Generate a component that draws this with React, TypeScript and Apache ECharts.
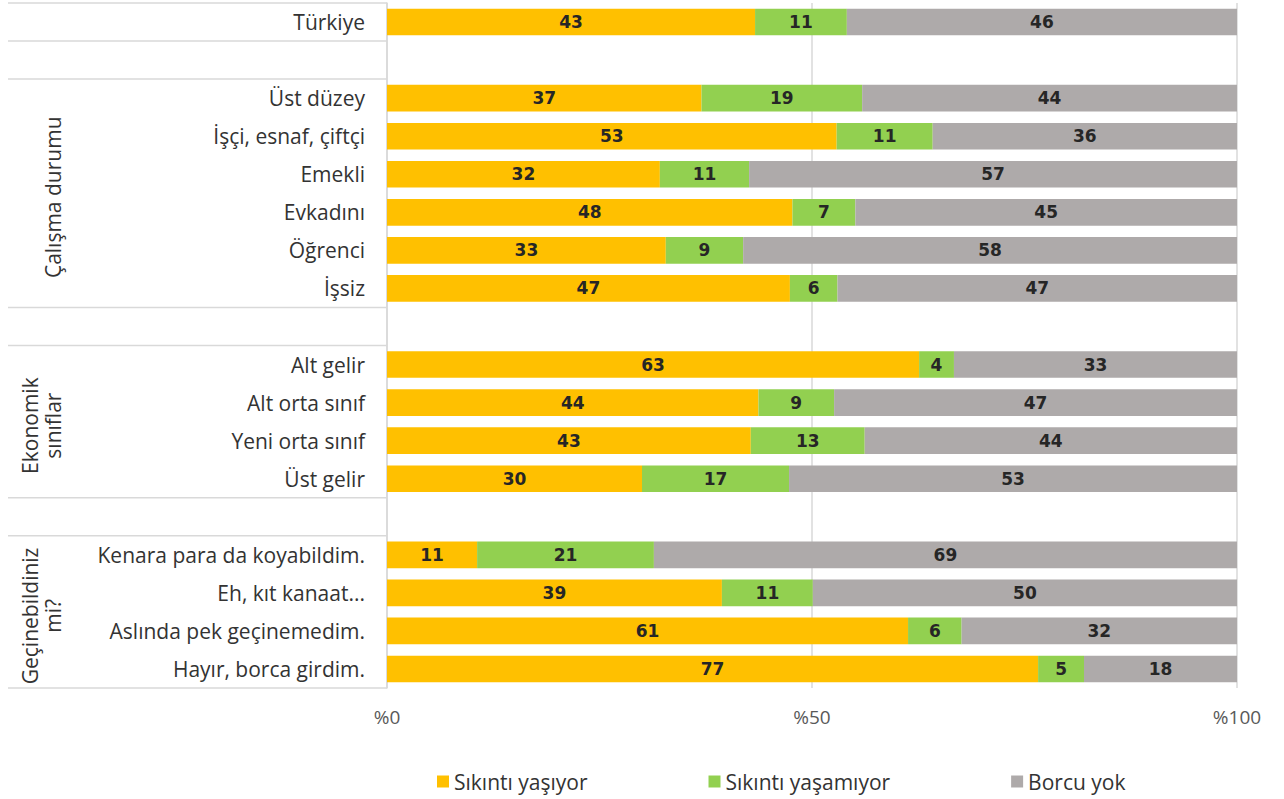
import React, { useEffect, useRef } from "react";
import * as echarts from "echarts";

const categories = [
  "Türkiye",
  " ",
  "Üst düzey",
  "İşçi, esnaf, çiftçi",
  "Emekli",
  "Evkadını",
  "Öğrenci",
  "İşsiz",
  "  ",
  "Alt gelir",
  "Alt orta sınıf",
  "Yeni orta sınıf",
  "Üst gelir",
  "   ",
  "Kenara para da koyabildim.",
  "Eh, kıt kanaat...",
  "Aslında pek geçinemedim.",
  "Hayır, borca girdim.",
];

const seriesNames = ["Sıkıntı yaşıyor", "Sıkıntı yaşamıyor", "Borcu yok"];

const sikintiYasiyor = [43.3, null, 37.0, 52.9, 32.1, 47.7, 32.8, 47.4, null, 62.6, 43.7, 42.8, 30.0, null, 10.6, 39.4, 61.3, 76.6];
const sikintiYasamiyor = [10.8, null, 18.9, 11.3, 10.5, 7.4, 9.1, 5.6, null, 4.1, 8.9, 13.4, 17.3, null, 20.8, 10.7, 6.3, 5.4];
const borcuYok = [45.9, null, 44.1, 35.8, 57.4, 44.9, 58.1, 47.0, null, 33.3, 47.4, 43.8, 52.7, null, 68.6, 49.9, 32.4, 18.0];

const xTicks = [0, 50, 100];

// group labels: text and the category rows they span (inclusive)
const groups = [
  { text: "Çalışma durumu", from: 2, to: 7 },
  { text: "Ekonomik\nsınıflar", from: 9, to: 12 },
  { text: "Geçinebildiniz\nmi?", from: 14, to: 17 },
];
// boundaries (row index before which a table line is drawn)
const tableLines = [0, 1, 2, 8, 9, 13, 14, 18];

const colors = ["#FFC000", "#92D050", "#AEAAAA"];

export default function App() {
  const ref = useRef<HTMLDivElement>(null);
  useEffect(() => {
    if (!ref.current) return;
    const chart = echarts.init(ref.current, null, { renderer: "svg" });
    const labelStyle = {
      show: true,
      position: "inside",
      color: "#262626",
      fontFamily: "DejaVu Sans",
      fontWeight: "bold",
      fontSize: 17,
      formatter: (p: any) => (p.value == null ? "" : String(Math.round(p.value))),
    };
    const datas = [sikintiYasiyor, sikintiYasamiyor, borcuYok];
    chart.setOption({
      animation: false,
      grid: { left: 387, right: 47, top: 3, bottom: 111, containLabel: false },
      xAxis: {
        type: "value",
        min: 0,
        max: 100,
        interval: 50,
        axisLine: { show: false },
        axisTick: { show: false },
        splitLine: { show: true, lineStyle: { color: "#D9D9D9", width: 1.5 } },
        axisLabel: {
          formatter: (v: number) => (xTicks.includes(v) ? "%" + v : ""),
          color: "#595959",
          fontFamily: "Open Sans",
          fontSize: 19,
          margin: 19,
        },
      },
      yAxis: {
        type: "category",
        data: categories,
        inverse: true,
        axisLine: { show: true, lineStyle: { color: "#D9D9D9", width: 1.5 } },
        axisTick: { show: false },
        axisLabel: {
          color: "#333333",
          fontFamily: "Open Sans",
          fontSize: 21,
          margin: 22,
        },
      },
      legend: {
        left: 432,
        top: 766,
        itemWidth: 12,
        itemHeight: 12,
        itemGap: 121,
        icon: "rect",
        textStyle: { color: "#333333", fontFamily: "Open Sans", fontSize: 21 },
        data: seriesNames,
      },
      series: seriesNames.map((name, i) => ({
        name,
        type: "bar",
        stack: "total",
        barWidth: "70%",
        data: datas[i],
        itemStyle: { color: colors[i] },
        label: labelStyle,
      })),
    });

    const yOf = (idx: number) => chart.convertToPixel({ yAxisIndex: 0 }, idx) as number;
    const y0 = yOf(0);
    const band = yOf(1) - y0;
    const boundary = (k: number) => y0 - band / 2 + k * band;
    const graphics: any[] = [];
    tableLines.forEach((k) => {
      const y = boundary(k);
      graphics.push({
        type: "line",
        shape: { x1: 8, y1: y, x2: 387, y2: y },
        style: { stroke: "#D9D9D9", lineWidth: 1.5 },
        silent: true,
      });
    });
    groups.forEach((g) => {
      const yc = (boundary(g.from) + boundary(g.to + 1)) / 2 + 4;
      graphics.push({
        type: "text",
        x: 64,
        y: yc,
        rotation: Math.PI / 2,
        style: {
          text: g.text,
          fill: "#333333",
          fontFamily: "Open Sans",
          fontSize: 21,
          align: "center",
          verticalAlign: "bottom",
          lineHeight: 23,
        },
        silent: true,
      });
    });
    chart.setOption({ graphic: graphics });
    return () => chart.dispose();
  }, []);
  return <div ref={ref} style={{ width: 1284, height: 799, position: "absolute", left: 0, top: 0 }} />;
}
